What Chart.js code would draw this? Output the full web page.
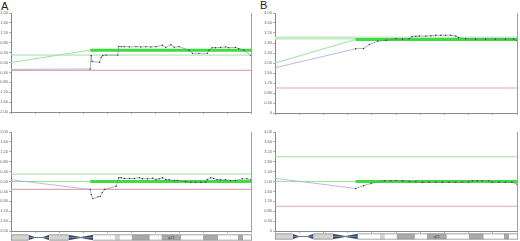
<!DOCTYPE html>
<html>
<head>
<meta charset="utf-8">
<script src="https://cdn.jsdelivr.net/npm/chart.js@4.4.0/dist/chart.umd.min.js"></script>
<style>
  html, body { margin: 0; padding: 0; background: #fff; }
  body { width: 520px; height: 241px; position: relative; overflow: hidden; font-family: "Liberation Sans", Arial, sans-serif; }
  canvas { position: absolute; }
  .tag { position: absolute; font-size: 11px; line-height: 11px; color: #222; }
</style>
</head>
<body>
<div class="tag" style="left:1px;top:1px">A</div>
<div class="tag" style="left:260px;top:0px">B</div>
<canvas id="aTop" width="255" height="107" style="left:0px;top:9px"></canvas>
<canvas id="aBot" width="255" height="107" style="left:0px;top:128px"></canvas>
<canvas id="bTop" width="257" height="108" style="left:264px;top:9px"></canvas>
<canvas id="bBot" width="257" height="107" style="left:264px;top:128px"></canvas>
<canvas id="aIdeo" width="241" height="7" style="left:11px;top:234px"></canvas>
<canvas id="bIdeo" width="243" height="7" style="left:275px;top:233px"></canvas>
<script>
// ---- axes ----
const X_TICKS = [0, 1, 2, 3, 4, 5, 6, 7, 8, 9, 10];
const Y_TICKS_A = [-2, -1.6, -1.2, -0.8, -0.4, 0, 0.4, 0.8, 1.2, 1.6, 2];
const Y_TICKS_B = [0, 0.4, 0.8, 1.2, 1.6, 2, 2.4, 2.8, 3.2, 3.6, 4];

// ---- A, top ----
const aTopPos = [3.30, 3.34, 3.38, 3.69, 3.76, 3.83, 3.96, 4.45, 4.49, 4.59, 4.72, 4.93, 5.21, 5.41, 5.62, 5.83, 6.04, 6.31, 6.45, 6.66, 6.80, 7.00, 7.42, 7.56, 7.83, 8.18, 8.25, 8.38, 8.52, 8.73, 8.94, 9.07, 9.35, 9.49, 9.70, 10.0];
const aTopVal = [-0.26, 0.28, 0.04, 0.01, 0.21, 0.28, 0.30, 0.30, 0.65, 0.64, 0.64, 0.63, 0.64, 0.63, 0.64, 0.63, 0.64, 0.70, 0.61, 0.72, 0.62, 0.64, 0.50, 0.37, 0.37, 0.37, 0.50, 0.60, 0.60, 0.61, 0.63, 0.60, 0.61, 0.56, 0.50, 0.28];
const aTopLevels = [0.30, -0.32];      // gain, loss
const aTopSegment = [0.0, 0.50];      // left edge, segment mean
const aTopLead = -0.28;

// ---- A, bottom ----
const aBotPos = [3.30, 3.34, 3.41, 3.62, 3.72, 3.80, 3.90, 4.38, 4.49, 4.59, 4.72, 4.93, 5.14, 5.35, 5.48, 5.69, 5.90, 6.04, 6.17, 6.31, 6.45, 6.59, 6.80, 6.93, 7.28, 7.49, 7.69, 7.90, 8.11, 8.18, 8.32, 8.45, 8.59, 8.73, 8.94, 9.14, 9.35, 9.63, 9.83, 10.0];
const aBotVal = [-0.32, -0.53, -0.69, -0.62, -0.60, -0.45, -0.32, -0.19, 0.15, 0.15, 0.12, 0.12, 0.12, 0.15, 0.11, 0.11, 0.13, 0.08, 0.11, 0.15, 0.08, 0.07, 0.04, 0.04, -0.01, -0.03, -0.03, -0.03, -0.03, 0.08, 0.15, 0.12, 0.08, 0.07, 0.07, 0.04, 0.04, 0.11, 0.11, 0.08];
const aBotLevels = [0.30, -0.32];
const aBotSegment = [0.0, 0.0];
const aBotLead = 0.07;

// ---- B, top ----
const bTopPos = [3.33, 3.66, 3.90, 4.25, 4.59, 5.00, 5.27, 5.55, 5.66, 5.82, 5.96, 6.23, 6.44, 6.64, 6.85, 7.05, 7.26, 7.47, 7.58, 7.88, 8.29, 8.70, 9.11, 9.52, 9.86, 10.0];
const bTopVal = [2.57, 2.58, 2.74, 2.87, 2.91, 2.97, 2.96, 2.97, 3.06, 3.07, 3.08, 3.08, 3.09, 3.11, 3.11, 3.11, 3.11, 3.08, 3.01, 2.97, 2.96, 2.96, 2.96, 2.96, 2.96, 2.90];
const bTopLevels = [3.0, 1.0];
const bTopSegment = [2.0, 2.94];
const bTopLead = 1.81;

// ---- B, bottom ----
const bBotPos = [3.33, 3.66, 3.97, 4.52, 4.79, 5.00, 5.27, 5.55, 5.82, 6.10, 6.37, 6.64, 6.92, 7.19, 7.47, 7.74, 8.00, 8.15, 8.36, 8.56, 8.84, 8.97, 9.25, 9.52, 9.79, 10.0];
const bBotVal = [1.72, 1.83, 1.92, 2.03, 2.03, 2.04, 2.03, 2.00, 1.99, 1.97, 1.97, 1.97, 1.97, 1.97, 1.97, 1.97, 1.99, 2.03, 2.03, 2.03, 2.03, 1.97, 1.97, 1.97, 1.97, 1.89];
const bBotLevels = [3.0, 1.0];
const bBotSegment = [2.0, 2.0];
const bBotLead = 2.13;

// ---- ideogram bands ----
const bandStart = [0, 0.72, 1.59, 2.38, 3.41, 4.31, 4.52, 5.00, 5.76, 6.24, 7.07, 7.97, 8.59, 9.42, 9.63];
const bandEnd   = [0.72, 1.59, 2.38, 3.41, 4.31, 4.52, 5.00, 5.76, 6.24, 7.07, 7.97, 8.59, 9.42, 9.63, 10];
const bandStain = ['gpos25', 'stalk', 'gpos25', 'acen', 'gneg', 'gpos25', 'gneg', 'gpos50', 'gneg', 'gpos50', 'gneg', 'gpos50', 'gneg', 'gpos50', 'gneg'];
const bandLabel = ['', '', '', '', '', '', '', '', '', 'q21', '', '', '', '', ''];

const STAIN = { gneg: '#ffffff', gpos25: '#d4d4d4', gpos50: '#a9a9a9', stalk: '#3c4d6a', acen: '#3c4d6a' };

function seg(points, color, width) {
  return {
    data: points.map(p => ({ x: p[0], y: p[1] })),
    showLine: true, borderColor: color, borderWidth: width,
    pointRadius: 0, fill: false,
  };
}

function panelDatasets(pos, val, levels, segment, lead, thickGain) {
  const first = pos[0], last = pos[pos.length - 1];
  return [
    {
      data: pos.map((x, i) => ({ x, y: val[i] })),
      showLine: true, borderColor: '#6f7d94', borderWidth: 0.6,
      pointRadius: 0.7, pointBackgroundColor: '#333', pointBorderWidth: 0,
    },
    seg([[first, segment[1]], [last, segment[1]]], '#3fdc3f', 3),
    seg([[0, lead], [first, val[0]]], '#a8a8dc', 0.8),
    seg([[0, segment[0]], [first, segment[1]]], '#9be39b', 1),
    seg([[0, levels[1]], [10, levels[1]]], '#dba9b0', 1.2),
    seg([[0, levels[0]], [10, levels[0]]], thickGain ? '#c2ecc2' : '#a6dca6', thickGain ? 3 : 1),
  ];
}

function makePanel(id, datasets, yTicks, fmt) {
  return new Chart(document.getElementById(id), {
    type: 'scatter',
    data: { datasets },
    options: {
      responsive: false, animation: false,
      layout: { padding: { top: 3, right: 3, left: 0, bottom: 0 } },
      plugins: { legend: { display: false }, tooltip: { enabled: false } },
      scales: {
        x: {
          type: 'linear', min: 0, max: 10,
          afterBuildTicks: a => { a.ticks = X_TICKS.map(v => ({ value: v })); },
          afterFit: a => { a.height = 4; },
          ticks: { display: false },
          grid: { drawOnChartArea: false, tickLength: 2, color: '#999', lineWidth: 0.8 },
          border: { color: '#8a8a8a', width: 1 },
        },
        y: {
          min: yTicks[0], max: yTicks[yTicks.length - 1],
          afterBuildTicks: a => { a.ticks = yTicks.map(v => ({ value: v })); },
          afterFit: a => { a.width = 11; },
          ticks: { font: { size: 4, family: 'Liberation Sans' }, color: '#666', padding: 1, callback: fmt },
          grid: { drawOnChartArea: false, tickLength: 2, color: '#999', lineWidth: 0.8 },
          border: { color: '#8a8a8a', width: 1 },
        },
        y2: {
          position: 'right', min: 0, max: 1,
          afterFit: a => { a.width = 0; },
          ticks: { display: false },
          grid: { drawOnChartArea: false, drawTicks: false },
          border: { color: '#a0a0a0', width: 1 },
        },
      },
    },
  });
}

const fmtA = v => Number(v).toFixed(2);
const fmtB = v => (v === 0 ? '0' : Number(v).toFixed(2));

makePanel('aTop', panelDatasets(aTopPos, aTopVal, aTopLevels, aTopSegment, aTopLead, false), Y_TICKS_A, fmtA);
makePanel('aBot', panelDatasets(aBotPos, aBotVal, aBotLevels, aBotSegment, aBotLead, false), Y_TICKS_A, fmtA);
makePanel('bTop', panelDatasets(bTopPos, bTopVal, bTopLevels, bTopSegment, bTopLead, true), Y_TICKS_B, fmtB);
makePanel('bBot', panelDatasets(bBotPos, bBotVal, bBotLevels, bBotSegment, bBotLead, false), Y_TICKS_B, fmtB);

// ===== ideogram: filled polygons on a 0..10 x scale =====
function ideoDatasets() {
  const sets = [];
  const fillTo = (pts, color, base) => ({
    data: pts.map(p => ({ x: p[0], y: p[1] })), showLine: true,
    borderWidth: 0, borderColor: color, backgroundColor: color,
    pointRadius: 0, fill: { value: base },
  });
  bandStart.forEach((s, i) => {
    const e = bandEnd[i], c = STAIN[bandStain[i]];
    if (bandStain[i] === 'stalk' || bandStain[i] === 'acen') {
      const t = bandStain[i] === 'stalk' ? 0.3 * (e - s) : 0.5 * (e - s);
      sets.push(fillTo([[s, 1], [s + t, 0.6], [e - t, 0.6], [e, 1]], c, 0.5));
      sets.push(fillTo([[s, 0], [s + t, 0.4], [e - t, 0.4], [e, 0]], c, 0.5));
    } else {
      sets.push(fillTo([[s, 1], [e, 1]], c, 0));
    }
  });
  // outline of the arms
  const a = bandEnd[0], b = bandStart[2], c2 = bandEnd[2], d = bandStart[4];
  sets.unshift({
    data: [
      { x: a, y: 1 }, { x: 0, y: 1 }, { x: 0, y: 0 }, { x: a, y: 0 }, { x: a, y: null },
      { x: b, y: 1 }, { x: c2, y: 1 }, { x: c2, y: null },
      { x: b, y: 0 }, { x: c2, y: 0 }, { x: c2, y: null },
      { x: d, y: 1 }, { x: 10, y: 1 }, { x: 10, y: 0 }, { x: d, y: 0 },
    ],
    showLine: true, spanGaps: false, borderColor: '#8e8e8e', borderWidth: 0.8,
    pointRadius: 0, fill: false,
  });
  return sets;
}

const bandText = {
  id: 'bandText',
  afterDatasetsDraw(chart) {
    const { ctx, scales } = chart;
    ctx.save();
    ctx.font = '4px "Liberation Sans"';
    ctx.fillStyle = '#444';
    ctx.textAlign = 'center';
    ctx.textBaseline = 'middle';
    bandLabel.forEach((t, i) => {
      if (!t) return;
      const x = scales.x.getPixelForValue((bandStart[i] + bandEnd[i]) / 2);
      ctx.fillText(t, x, scales.y.getPixelForValue(0.5));
    });
    ctx.restore();
  },
};

function makeIdeo(id) {
  return new Chart(document.getElementById(id), {
    type: 'scatter',
    data: { datasets: ideoDatasets() },
    options: {
      responsive: false, animation: false,
      layout: { padding: 0 },
      plugins: { legend: { display: false }, tooltip: { enabled: false } },
      scales: {
        x: { type: 'linear', min: 0, max: 10, display: false },
        y: { min: -0.15, max: 1.15, display: false },
      },
    },
    plugins: [bandText],
  });
}

makeIdeo('aIdeo');
makeIdeo('bIdeo');
</script>
</body>
</html>
